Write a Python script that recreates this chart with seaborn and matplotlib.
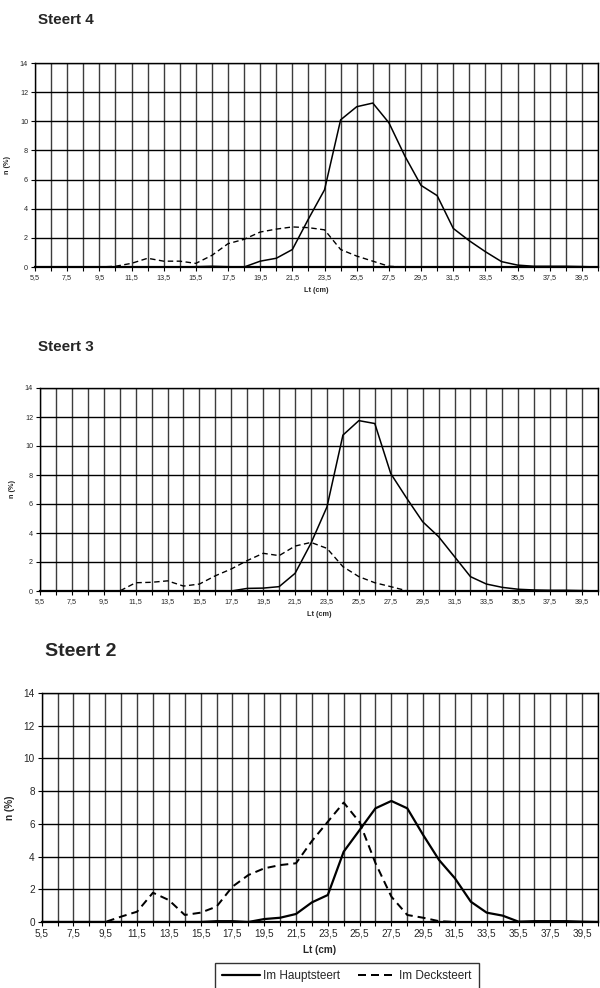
import numpy as np
import pandas as pd
import matplotlib
matplotlib.use("Agg")
import matplotlib.pyplot as plt
import seaborn as sns

sns.set_style("white")
plt.rcParams['font.family'] = ['Liberation Sans', 'DejaVu Sans']

# ---- data -------------------------------------------------------------
lengths = [5.5, 6.5, 7.5, 8.5, 9.5, 10.5, 11.5, 12.5, 13.5, 14.5, 15.5, 16.5,
           17.5, 18.5, 19.5, 20.5, 21.5, 22.5, 23.5, 24.5, 25.5, 26.5, 27.5,
           28.5, 29.5, 30.5, 31.5, 32.5, 33.5, 34.5, 35.5, 36.5, 37.5, 38.5,
           39.5, 40.5]
tick_labels = ["5,5", "7,5", "9,5", "11,5", "13,5", "15,5", "17,5", "19,5",
               "21,5", "23,5", "25,5", "27,5", "29,5", "31,5", "33,5", "35,5",
               "37,5", "39,5"]
series_names = ["Im Hauptsteert", "Im Decksteert"]
panel_titles = ["Steert 4", "Steert 3", "Steert 2"]

# Steert 4
s4_haupt = [0, 0, 0, 0, 0, 0, 0, 0, 0, 0, 0.02, 0.05, 0.02, 0.0, 0.4, 0.6,
            1.2, 3.3, 5.3, 10.1, 11.0, 11.25, 9.9, 7.6, 5.6, 4.9, 2.65, 1.8,
            1.05, 0.37, 0.13, 0.05, 0.05, 0.05, 0.03, 0]
s4_deck = [0, 0, 0, 0, 0, 0.05, 0.25, 0.6, 0.4, 0.4, 0.25, 0.8, 1.6, 1.9,
           2.4, 2.6, 2.75, 2.7, 2.55, 1.2, 0.75, 0.4, 0.05, 0, 0, 0, 0, 0, 0,
           0, 0, 0, 0, 0, 0, 0]
# Steert 3
s3_haupt = [0, 0, 0, 0, 0, 0, 0, 0, 0, 0, 0, 0, 0.0, 0.18, 0.2, 0.3, 1.22,
            3.3, 5.8, 10.75, 11.75, 11.55, 8.1, 6.4, 4.78, 3.75, 2.37, 0.99,
            0.48, 0.25, 0.12, 0.07, 0.05, 0.05, 0.03, 0]
s3_deck = [0, 0, 0, 0, 0, 0.0, 0.57, 0.6, 0.7, 0.34, 0.48, 1.05, 1.52, 2.1,
           2.6, 2.44, 3.1, 3.35, 2.94, 1.68, 0.99, 0.57, 0.3, 0.02, 0, 0, 0,
           0, 0, 0, 0, 0, 0, 0, 0, 0]
# Steert 2
s2_haupt = [0, 0, 0, 0, 0, 0, 0, 0, 0, 0, 0, 0.05, 0.05, 0.0, 0.18, 0.26,
            0.49, 1.2, 1.65, 4.3, 5.62, 6.95, 7.4, 6.95, 5.32, 3.79, 2.67,
            1.24, 0.57, 0.39, 0.02, 0.05, 0.05, 0.05, 0.02, 0]
s2_deck = [0, 0, 0, 0, 0.0, 0.33, 0.63, 1.79, 1.34, 0.43, 0.57, 0.94, 2.16,
           2.87, 3.28, 3.48, 3.59, 4.95, 6.13, 7.3, 6.1, 3.6, 1.55, 0.43,
           0.26, 0.05, 0, 0, 0, 0, 0, 0, 0, 0, 0, 0]

panels = [(s4_haupt, s4_deck), (s3_haupt, s3_deck), (s2_haupt, s2_deck)]

# ---- layout (pixels) ---------------------------------------------------
W, H = 600, 988
fig = plt.figure(figsize=(W / 100, H / 100), dpi=100)

boxes = [(35, 598, 63, 267), (40, 598, 388, 591), (41.7, 598, 693, 922)]
title_pos = [(38, 13, 11), (38, 340, 11), (45, 643, 14)]
tick_fs = [5.2, 5.2, 7.2]
lab_fs = [5.2, 5.2, 7.2]
lw_main = [1.1, 1.1, 1.6]

axes = []
for i, ((L, R, T, B), (haupt, deck)) in enumerate(zip(boxes, panels)):
    ax = fig.add_axes([L / W, 1 - B / H, (R - L) / W, (B - T) / H])
    axes.append(ax)
    df = pd.DataFrame({"Lt": lengths, series_names[0]: haupt,
                       series_names[1]: deck})
    sns.lineplot(data=df, x="Lt", y=series_names[0], ax=ax, color="black",
                 lw=lw_main[i], label=series_names[0], legend=False)
    sns.lineplot(data=df, x="Lt", y=series_names[1], ax=ax, color="black",
                 lw=lw_main[i] * 0.9, linestyle=(0, (4, 2.5)),
                 label=series_names[1], legend=False)
    ax.set_xlim(5.5, 40.5)
    ax.set_ylim(0, 14)
    ax.set_xticks(lengths)
    ax.set_xticklabels([tick_labels[j // 2] if j % 2 == 0 and j // 2 < len(tick_labels) else ""
                        for j in range(len(lengths))], fontsize=tick_fs[i])
    ax.set_yticks(np.arange(0, 15, 2))
    ax.set_yticklabels([str(v) for v in range(0, 15, 2)], fontsize=tick_fs[i])
    ax.grid(True, axis="x", color="#3c3c3c", lw=1.0)
    ax.grid(True, axis="y", color="black", lw=1.0)
    ax.set_axisbelow(True)
    for s in ax.spines.values():
        s.set_color("black")
        s.set_linewidth(1.0)
    ax.spines["bottom"].set_linewidth(1.6)
    ax.tick_params(axis="both", direction="out", length=3, width=0.8,
                   color="black", pad=2, bottom=True, left=True)
    ax.set_xlabel("Lt (cm)", fontsize=lab_fs[i], fontweight="bold", labelpad=4)
    ax.set_ylabel("n (%)", fontsize=lab_fs[i], fontweight="bold", labelpad=6)
    tx, ty, tfs = title_pos[i]
    fig.text(tx / W, 1 - ty / H, panel_titles[i], fontsize=tfs,
             fontweight="bold", va="top", ha="left")

handles, labels = axes[2].get_legend_handles_labels()
leg = fig.legend(handles, labels, loc="upper left",
                 bbox_to_anchor=(215 / W, 1 - 963 / H), ncol=2,
                 fontsize=8.5, frameon=True, fancybox=False, edgecolor="black",
                 handlelength=3.2, columnspacing=1.5, handletextpad=0.3,
                 borderpad=0.6, borderaxespad=0)
leg.get_frame().set_linewidth(1.0)

fig.savefig("out.png", dpi=100)
